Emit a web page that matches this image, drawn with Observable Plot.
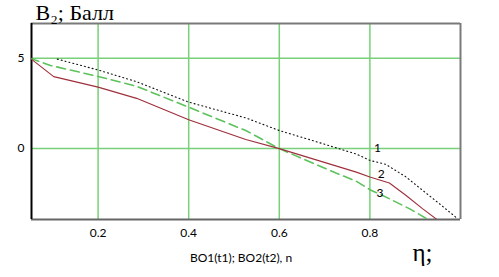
<!DOCTYPE html>
<html><head><meta charset="utf-8">
<script src="https://cdn.jsdelivr.net/npm/d3@7"></script>
<script src="https://cdn.jsdelivr.net/npm/@observablehq/plot@0.6"></script>
<style>body{margin:0;background:#fff}</style>
</head><body><div id="chart"></div>
<script>
const eta1 = [0.11, 0.2, 0.285, 0.4, 0.526, 0.6, 0.673, 0.77, 0.8, 0.835, 0.88, 0.916, 0.953, 0.99];
const b1   = [4.95, 4.35, 3.7, 2.57, 1.7, 1.0, 0.45, -0.3, -0.65, -0.87, -1.57, -2.3, -3.04, -3.8];
const eta2 = [0.05, 0.102, 0.2, 0.285, 0.4, 0.526, 0.6, 0.77, 0.8, 0.843, 0.88, 0.916, 0.948];
const b2   = [5, 3.98, 3.4, 2.78, 1.6, 0.5, 0, -1.3, -1.57, -1.9, -2.59, -3.32, -3.92];
const eta3 = [0.05, 0.095, 0.2, 0.285, 0.4, 0.526, 0.6, 0.725, 0.77, 0.8, 0.843, 0.887, 0.927];
const b3   = [5, 4.6, 3.99, 3.45, 2.29, 1.0, 0, -1.35, -1.8, -2.27, -2.77, -3.32, -3.9];
const curveLabels = ["1", "2", "3"];
const labelX = [0.817, 0.825, 0.822];
const labelY = [0.05, -1.39, -2.49];
const xTicks = [0.2, 0.4, 0.6, 0.8];
const yTicks = [0, 5];
const xDomain = [0.053, 1.0];
const yDomain = [-3.92, 6.92];
const titleText = "В₂; Балл";
const xLabelText = "BO1(t1); BO2(t2), n";
const etaText = "η;";

const s1 = eta1.map((x, i) => ({x, y: b1[i]}));
const s2 = eta2.map((x, i) => ({x, y: b2[i]}));
const s3 = eta3.map((x, i) => ({x, y: b3[i]}));
const labs = curveLabels.map((t, i) => ({t, x: labelX[i], y: labelY[i]}));

const grid = "#78d078";
const plot = Plot.plot({
  width: 499, height: 277,
  marginLeft: 31, marginRight: 39, marginTop: 23, marginBottom: 58,
  style: {fontFamily: "Lato, sans-serif", fontSize: "12px", background: "#fff", overflow: "visible"},
  x: {domain: xDomain},
  y: {domain: yDomain},
  marks: [
    Plot.gridX(xTicks, {stroke: grid, strokeOpacity: 1, strokeWidth: 1.5}),
    Plot.gridY(yTicks, {stroke: grid, strokeOpacity: 1, strokeWidth: 1.5}),
    Plot.ruleY([yDomain[1]], {stroke: "#7a7a7a", strokeWidth: 2}),
    Plot.ruleX([xDomain[1]], {stroke: "#7a7a7a", strokeWidth: 2}),
    Plot.ruleY([yDomain[0]], {stroke: "#666", strokeWidth: 2}),
    Plot.ruleX([xDomain[0]], {stroke: "#000", strokeWidth: 2}),
    Plot.line(s3, {x: "x", y: "y", stroke: "#5cc25c", strokeWidth: 1.6, strokeDasharray: "9,5", clip: true}),
    Plot.line(s2, {x: "x", y: "y", stroke: "#9e2f3c", strokeWidth: 1.1, clip: true}),
    Plot.line(s1, {x: "x", y: "y", stroke: "#111", strokeWidth: 1.1, strokeDasharray: "1,3", clip: true}),
    Plot.text(labs, {x: "x", y: "y", text: "t", fontSize: 12, fill: "#000"}),
    Plot.axisX(xTicks, {tickSize: 0, tickPadding: 9, label: null, tickFormat: d3.format(".1f"), fontSize: 12}),
    Plot.axisY(yTicks, {tickSize: 0, tickPadding: 7, label: null, fontSize: 12}),
    Plot.text([titleText], {frameAnchor: "top-left", text: d => d, lineAnchor: "bottom", dx: 4, dy: -4, fontFamily: "Liberation Serif", fontSize: 22, fill: "#000"}),
    Plot.text([xLabelText], {frameAnchor: "bottom", text: d => d, lineAnchor: "middle", dx: -5, dy: 39, fontSize: 12, fill: "#000"}),
    Plot.text([etaText], {frameAnchor: "bottom-right", text: d => d, textAnchor: "end", lineAnchor: "middle", dx: -28, dy: 33, fontFamily: "Liberation Serif", fontSize: 25, fill: "#000"})
  ]
});
document.getElementById("chart").appendChild(plot);
</script>
</body></html>
